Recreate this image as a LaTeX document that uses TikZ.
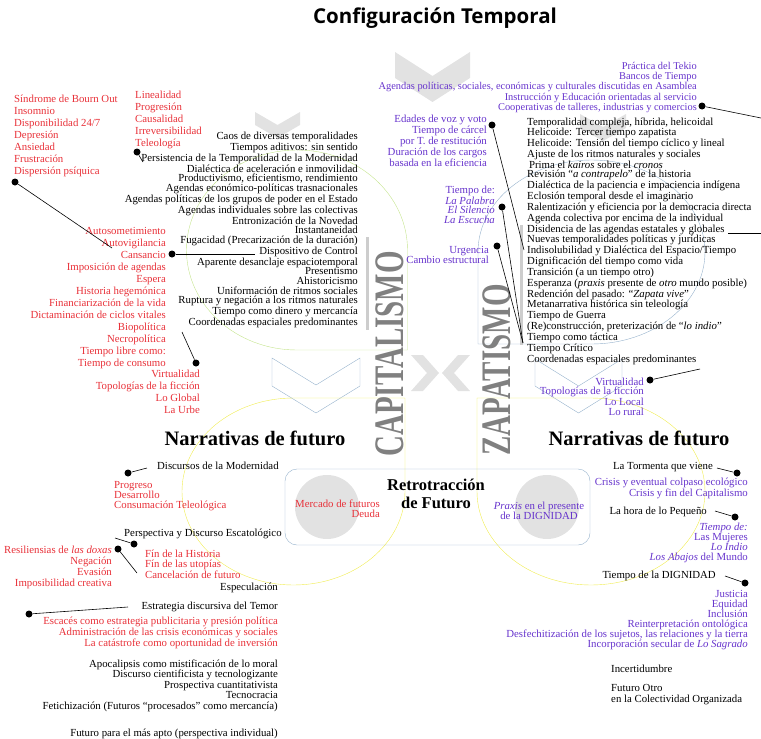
\documentclass[tikz,border=0pt]{standalone}
\usepackage{fontspec}
\setmainfont{Liberation Serif}
\newfontfamily\titlefont{Open Sans}
\usetikzlibrary{positioning}

\definecolor{capred}{RGB}{232,48,56}
\definecolor{zappurple}{RGB}{102,51,204}
\definecolor{chevgray}{RGB}{226,226,226}
\definecolor{wordgray}{RGB}{128,128,128}
\definecolor{bargray}{RGB}{205,205,205}
\definecolor{lineyellow}{RGB}{240,236,80}
\definecolor{linegreen}{RGB}{196,228,140}
\definecolor{lineblue}{RGB}{150,178,204}

\newcommand*{\chev}[5]{%
\path[shift={#1}, #5] (0,0) -- (#2/2,#3) -- (#2,0) -- (#2,#4) -- (#2/2,#3+#4) -- (0,#4) -- cycle;}
\newcommand*{\gota}[4]{%
\draw[shift={#1}, #4] (#2,-#3) -- (0,-#3)
  .. controls (-0.552*#2,-#3) and (-#2,-0.552*#3) .. (-#2,0)
  .. controls (-#2,0.552*#3) and (-0.552*#2,#3) .. (0,#3)
  .. controls (0.552*#2,#3) and (#2,0.552*#3) .. (#2,0) -- cycle;}

\begin{document}
\begin{tikzpicture}[x=1pt, y=-1pt,
  lst/.style={inner sep=0pt, font=\fontsize{10.8}{#1}\selectfont},
  lst/.default=10,
  pinpt/.style={circle, fill=black, inner sep=0pt, minimum size=7pt},
  pinline/.style={semithick},
  chevfill/.style={fill=chevgray},
  chevline/.style={draw=lineblue, thin},
  bigword/.style={wordgray, inner sep=0pt, rotate=90, font=\bfseries\fontsize{42}{42}\selectfont},
  narr/.style={inner sep=0pt, anchor=base, font=\bfseries\fontsize{20.5}{22}\selectfont}]

\useasboundingbox (0,0) rectangle (761,739);

% chevrons
\chev{(395,52)}{75}{24}{26}{chevfill}
\chev{(255,112)}{45}{13}{13}{chevfill}
\chev{(580,114)}{46}{13}{14}{chevfill}
\chev{(411,391)}{36}{16}{12}{chevfill, rotate=90}
\chev{(470,355)}{36}{16}{12}{chevfill, rotate=-90}
\chev{(272,358)}{88}{27}{28}{chevline}
\chev{(535,359)}{87}{27}{27}{chevline}

% gotas
\gota{(297,250)}{110.5}{100}{linegreen, yscale=-1}
\gota{(591.5,252)}{113.5}{92}{lineblue, xscale=-1, yscale=-1}
\gota{(293.5,491.5)}{111.5}{93.5}{lineyellow}
\gota{(591,491.5)}{114}{93.5}{lineyellow, xscale=-1}

\draw[line width=3pt, bargray] (367,237) -- (367,330);
\draw[line width=3pt, bargray] (521,225) -- (521,345);

\node[draw=lineblue, rounded corners=12pt, minimum width=305pt, minimum height=76pt] (retrobox) at (437.5,507) {};
\node[circle, fill=chevgray, minimum size=64pt, inner sep=0pt] (mcirc) at (327,507) {};
\node[circle, fill=chevgray, minimum size=64pt, inner sep=0pt] (pcirc) at (547,507) {};

\node[font=\titlefont\bfseries\fontsize{20.5}{20.5}\selectfont] (titulo) at (435,18) {Configuración Temporal};

\node[bigword] (capword) at (390,354) {\scalebox{0.69}[1]{CAPITALISMO}};
\node[bigword] (zapword) at (497,370) {\scalebox{0.69}[1]{ZAPATISMO}};

\node[narr] (narcap) at (255,445) {Narrativas de futuro};
\node[narr] (narzap) at (639,445) {Narrativas de futuro};
\node[inner sep=0pt, anchor=base, align=center, font=\bfseries\fontsize{16.5}{18}\selectfont] (retro) at (436,508) {Retrotracción\\de Futuro};

% capitalismo (anchors at the baseline of the last line)
\node[lst=12, text=capred, align=left, anchor=base west] (sintomas) at (14,174) {Síndrome de Bourn Out\\Insomnio\\Disponibilidad 24/7\\Depresión\\Ansiedad\\Frustración\\Dispersión psíquica};
\node[lst=12, text=capred, align=left, anchor=base west] (linealidad) at (135,146) {Linealidad\\Progresión\\Causalidad\\Irreversibilidad\\Teleología};
\node[lst=9.7, align=right, anchor=base east] (capt) at (358,325.6) {Caos de diversas temporalidades\\Tiempos aditivos: sin sentido\\Persistencia de la Temporalidad de la Modernidad\\Dialéctica de aceleración e inmovilidad\\Productivismo, eficientismo, rendimiento\\Agendas económico-políticas trasnacionales\\Agendas políticas de los grupos de poder en el Estado\\Agendas individuales sobre las colectivas\\Entronización de la Novedad\\Instantaneidad\\Fugacidad (Precarización de la duración)\\Dispositivo de Control\\Aparente desanclaje espaciotemporal\\Presentismo\\Ahistoricismo\\Uniformación de ritmos sociales\\Ruptura y negación a los ritmos naturales\\Tiempo como dinero y mercancía\\Coordenadas espaciales predominantes};
\node[lst=12, text=capred, align=right, anchor=base east] (control) at (166,366) {Autosometimiento\\Autovigilancia\\Cansancio\\Imposición de agendas\\Espera\\Historia hegemónica\\Financiarización de la vida\\Dictaminación de ciclos vitales\\Biopolítica\\Necropolítica\\Tiempo libre como:\\Tiempo de consumo};
\node[lst=12, text=capred, align=right, anchor=base east] (ficcioncap) at (200,413) {Virtualidad\\Topologías de la ficción\\Lo Global\\La Urbe};

% zapatismo
\node[lst, font=\fontsize{10.4}{9.4}\selectfont, text=zappurple, align=right, anchor=base east] (tekio) at (697,110.6) {Práctica del Tekio\\Bancos de Tiempo\\Agendas políticas, sociales, económicas y culturales discutidas en Asamblea\\Instrucción y Educación orientadas al servicio\\Cooperativas de talleres, industrias y comercios};
\node[lst=9.2, text=zappurple, align=right, anchor=base east] (edades) at (487,166) {Edades de voz y voto\\Tiempo de cárcel\\por T. de restitución\\Duración de los cargos\\basada en la eficiencia};
\node[lst=9.3, text=zappurple, align=right, anchor=base east] (palabra) at (495,223) {Tiempo de:\\\textit{La Palabra}\\\textit{El Silencio}\\\textit{La Escucha}};
\node[lst=10, text=zappurple, align=right, anchor=base east] (urgencia) at (489,263) {Urgencia\\Cambio estructural};
\node[lst=9.5, align=left, anchor=base west] (zapt) at (527,362) {Temporalidad compleja, híbrida, helicoidal\\Helicoide: Tercer tiempo zapatista\\Helicoide: Tensión del tiempo cíclico y lineal\\Ajuste de los ritmos naturales y sociales\\\,Prima el \textit{kairos} sobre el \textit{cronos}\\Revisión “\textit{a contrapelo}” de la historia\\Dialéctica de la paciencia e impaciencia indígena\\Eclosión temporal desde el imaginario\\Ralentización y eficiencia por la democracia directa\\Agenda colectiva por encima de la individual\\Disidencia de las agendas estatales y globales\\Nuevas temporalidades políticas y jurídicas\\Indisolubilidad y Dialéctica del Espacio/Tiempo\\Dignificación del tiempo como vida\\Transición (a un tiempo otro)\\Esperanza (\textit{praxis} presente de \textit{otro} mundo posible)\\Redención del pasado: “\textit{Zapata vive}”\\Metanarrativa histórica sin teleología\\Tiempo de Guerra\\(Re)construcción, preterización de “\textit{lo indio}”\\Tiempo como táctica\\Tiempo Crítico\\Coordenadas espaciales predominantes};
\node[lst=9.3, text=zappurple, align=right, anchor=base east] (ficcionzap) at (644,415) {Virtualidad\\Topologías de la ficción\\Lo Local\\Lo rural};

% retrotraccion
\node[lst=10.5, text=capred, align=right, anchor=base east] (mercado) at (380,517.5) {Mercado de futuros\\Deuda};
\node[lst=10, text=zappurple, align=center, anchor=base] (praxis) at (539,519) {\textit{Praxis} en el presente\\de la DIGNIDAD};

% narrativas capitalismo
\node[lst, anchor=base west] (modernidad) at (157,469) {Discursos de la Modernidad};
\node[lst=10, text=capred, align=left, anchor=base west] (progreso) at (114,508) {Progreso\\Desarrollo\\Consumación Teleológica};
\node[lst, anchor=base west] (escatologico) at (124,536) {Perspectiva y Discurso Escatológico};
\node[lst=11, text=capred, align=right, anchor=base east] (doxas) at (112,586) {Resiliensias de \textit{las doxas}\\Negación\\Evasión\\Imposibilidad creativa};
\node[lst=10.5, text=capred, align=left, anchor=base west] (finhistoria) at (145,578) {Fín de la Historia\\Fín de las utopías\\Cancelación de futuro};
\node[lst, anchor=base east] (especulacion) at (278,590) {Especulación};
\node[lst, anchor=base east] (temor) at (278,609) {Estrategia discursiva del Temor};
\node[lst=9.7, text=capred, align=right, anchor=base east] (escasez) at (278,646.4) {Escacés como estrategia publicitaria y presión política\\Administración de las crisis económicas y sociales\\La catástrofe como oportunidad de inversión};
\node[lst=10.5, align=right, anchor=base east] (apocalipsis) at (278,709) {Apocalipsis como mistificación de lo moral\\Discurso cientificista y tecnologizante\\Prospectiva cuantitativista\\Tecnocracia\\Fetichización (Futuros “procesados” como mercancía)};
\node[lst, anchor=base east] (masapto) at (278,736) {Futuro para el más apto (perspectiva individual)};

% narrativas zapatismo
\node[lst, anchor=base east] (tormenta) at (713,469) {La Tormenta que viene};
\node[lst=9, text=zappurple, align=right, anchor=base east] (colapso) at (748,496) {Crisis y eventual colpaso ecológico\\Crisis y fin del Capitalismo};
\node[lst, anchor=base east] (pequeno) at (707,514) {La hora de lo Pequeño};
\node[lst=10, text=zappurple, align=right, anchor=base east] (mujeres) at (748,560) {\textit{Tiempo de:}\\Las Mujeres\\\textit{Lo Indio}\\\textit{Los Abajos} del Mundo};
\node[lst, anchor=base east] (dignidad) at (716,578) {Tiempo de la DIGNIDAD};
\node[lst=10, text=zappurple, align=right, anchor=base east] (justicia) at (748,647) {Justicia\\Equidad\\Inclusión\\Reinterpretación ontológica\\Desfechitización de los sujetos, las relaciones y la tierra\\Incorporación secular de \textit{Lo Sagrado}};
\node[lst, anchor=base west] (incert) at (611,672) {Incertidumbre};
\node[lst=11, align=left, anchor=base west] (futurotro) at (611,702) {Futuro Otro\\en la Colectividad Organizada};

% pins
\node[pinpt] (p1) at (15,182) {};
\coordinate (q1) at (112,248);
\node[pinpt] (p2) at (137,152) {};
\coordinate (q2) at (143,162);
\node[pinpt] (p3) at (172,254) {};
\coordinate (q3) at (255,254);
\node[pinpt] (p4) at (196,363) {};
\coordinate (q4) at (182,332);
\node[pinpt] (p5) at (702,106) {};
\coordinate (q5) at (761,118);
\node[pinpt] (p6) at (492,125) {};
\coordinate (q6) at (524,250);
\node[pinpt] (p7) at (502,207) {};
\node[pinpt] (p8) at (497,246) {};
\coordinate (q7) at (523,343);
\node[pinpt] (p9) at (650,380) {};
\coordinate (q9) at (700,369);
\coordinate (p10) at (728,233);
\coordinate (q10) at (761,233);
\node[pinpt] (p11) at (128,473) {};
\coordinate (q11) at (147,468);
\node[pinpt] (p12) at (134,544) {};
\coordinate (q12) at (115,538);
\node[pinpt] (p13) at (118,549) {};
\coordinate (q13) at (137,573);
\node[pinpt] (p14) at (29,614) {};
\coordinate (q14) at (128,607);
\node[pinpt] (p15) at (737,473) {};
\coordinate (q15) at (717,468);
\node[pinpt] (p16) at (735,517) {};
\coordinate (q16) at (715,511);
\node[pinpt] (p17) at (745,583) {};
\coordinate (q17) at (725,576);

\foreach \a/\b in {p1/q1, p2/q2, p3/q3, p4/q4, p5/q5, p6/q6, p7/q7, p8/q7, p9/q9, p10/q10, p11/q11, p12/q12, p13/q13, p14/q14, p15/q15, p16/q16, p17/q17}
  \draw[pinline] (\a) -- (\b);

\end{tikzpicture}
\end{document}
